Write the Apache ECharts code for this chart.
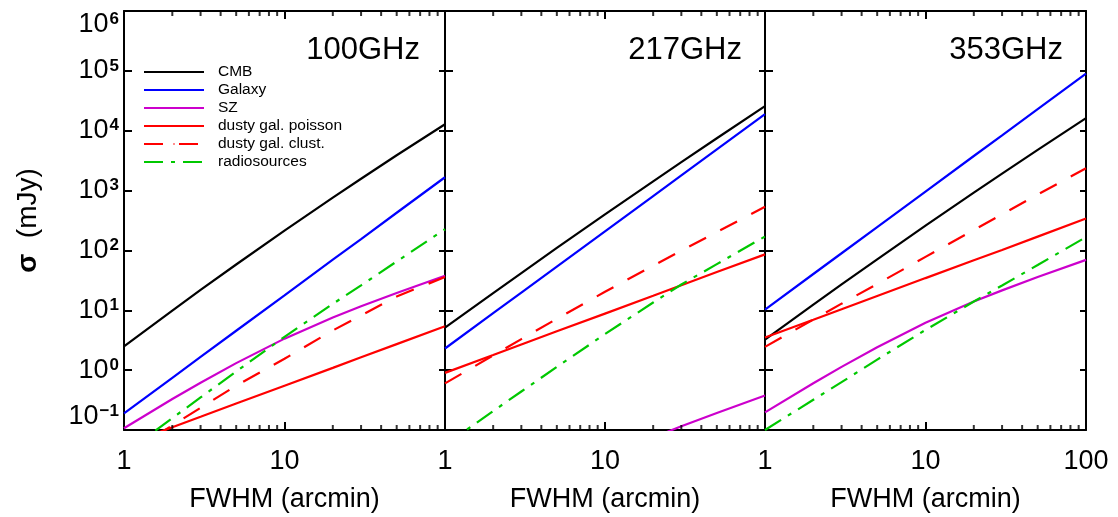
<!DOCTYPE html>
<html>
<head>
<meta charset="utf-8">
<script src="https://cdn.jsdelivr.net/npm/echarts@6/dist/echarts.min.js"></script>
<style>html,body{margin:0;padding:0;background:#fff;}#c{width:1118px;height:517px;}</style>
</head>
<body>
<div id="c"></div>
<script>
// FWHM (arcmin)
const fwhm = [1, 2, 3, 5, 10, 20, 30, 50, 100];

// 100 GHz (sigma in mJy)
const cmb100      = [2.5, 9.9, 21.9, 58.2, 214, 762, 1578, 3885, 12830];
const galaxy100   = [0.19, 0.745, 1.66, 4.55, 17.8, 70, 155, 426, 1670];
const sz100       = [0.107, 0.329, 0.617, 1.31, 3.36, 7.6, 11.7, 19.5, 37.8];
const poisson100  = [0.056, 0.111, 0.166, 0.277, 0.55, 1.09, 1.64, 2.72, 5.4];
const clust100    = [0.038, 0.119, 0.235, 0.55, 1.55, 4.6, 8.2, 17, 36];
const radio100    = [0.040, 0.158, 0.35, 0.95, 3.6, 12.8, 26.1, 65.3, 226];

// 217 GHz
const cmb217      = [5.14, 19.4, 41.9, 110, 399, 1426, 2980, 7490, 25800];
const galaxy217   = [2.3, 8.94, 19.8, 53.7, 208, 810, 1790, 4860, 18950];
const sz217       = [0.00106, 0.00325, 0.0061, 0.0129, 0.0332, 0.075, 0.1155, 0.1925, 0.378];
const poisson217  = [0.9, 1.79, 2.68, 4.45, 8.8, 17.5, 26.2, 43.5, 86];
const clust217    = [0.6, 1.76, 3.3, 7.2, 20.4, 55.7, 99, 203, 535];
const radio217    = [0.056, 0.207, 0.44, 1.13, 4.0, 13.5, 27, 59, 171];

// 353 GHz
const cmb353      = [3.24, 12.4, 27, 71, 259, 922, 1921, 4790, 16230];
const galaxy353   = [10.3, 40.4, 89.7, 246, 963, 3780, 8380, 23000, 90000];
const sz353       = [0.197, 0.605, 1.135, 2.41, 6.18, 14.0, 21.5, 35.9, 69.6];
const poisson353  = [3.5, 6.95, 10.4, 17.3, 34.5, 68.5, 102, 170, 341];
const clust353    = [2.45, 7.0, 12.9, 27.5, 78, 220, 400, 860, 2360];
const radio353    = [0.1, 0.32, 0.63, 1.5, 4.7, 14, 26, 57, 167];

const panelTitles = ['100GHz', '217GHz', '353GHz'];
const componentNames = ['CMB', 'Galaxy', 'SZ', 'dusty gal. poisson', 'dusty gal. clust.', 'radiosources'];
const xTickLabels = [['1', '10', ''], ['1', '10', ''], ['1', '10', '100']];
const minorTicksX = [2, 3, 4, 5, 6, 7, 8, 9, 20, 30, 40, 50, 60, 70, 80, 90];
const yMin = 0.1, yMax = 1e6, xMin = 1, xMax = 100;

const panelData = [
  [cmb100, galaxy100, sz100, poisson100, clust100, radio100],
  [cmb217, galaxy217, sz217, poisson217, clust217, radio217],
  [cmb353, galaxy353, sz353, poisson353, clust353, radio353]
];

const FONT = 'Liberation Sans, Arial, Helvetica, sans-serif';
const styles = [
  {color: '#000000', type: 'solid'},
  {color: '#0000ff', type: 'solid'},
  {color: '#cc00cc', type: 'solid'},
  {color: '#ff0000', type: 'solid'},
  {color: '#ff0000', type: [19, 16]},
  {color: '#00c800', type: [19, 8, 4, 8]}
];

const grids = [
  {left: 124, top: 11, width: 321, height: 419},
  {left: 445, top: 11, width: 320, height: 419},
  {left: 765, top: 11, width: 321, height: 419}
];

function yLabel(v) {
  const e = Math.round(Math.log10(v));
  const sup = e < 0 ? '\u2212' + (-e) : String(e);
  return '{b|10}{s|' + sup + '}';
}

const xAxes = [], yAxes = [], series = [];
grids.forEach((g, i) => {
  const labels = xTickLabels[i];
  xAxes.push({
    type: 'log', logBase: 10, min: xMin, max: xMax, splitNumber: 2, gridIndex: i, position: 'bottom',
    axisLine: {show: true, onZero: false, lineStyle: {color: '#000', width: 2}},
    axisTick: {show: true, inside: true, length: 8, lineStyle: {color: '#000', width: 2}},
    splitLine: {show: false}, minorTick: {show: false},
    axisLabel: {show: true, margin: 18, fontSize: 27, color: '#000', fontFamily: FONT,
      formatter: v => labels[Math.round(Math.log10(v))] || ''},
    name: 'FWHM (arcmin)', nameLocation: 'middle', nameGap: 56,
    nameTextStyle: {fontSize: 27, color: '#000', fontFamily: FONT}
  });
  xAxes.push({
    type: 'log', logBase: 10, min: xMin, max: xMax, splitNumber: 2, gridIndex: i, position: 'top',
    axisLine: {show: true, onZero: false, lineStyle: {color: '#000', width: 2}},
    axisTick: {show: true, inside: true, length: 8, lineStyle: {color: '#000', width: 2}},
    splitLine: {show: false}, axisLabel: {show: false}
  });
  const leftY = {
    type: 'log', logBase: 10, min: yMin, max: yMax, splitNumber: 7, gridIndex: i, position: 'left',
    axisLine: {show: true, onZero: false, lineStyle: {color: '#000', width: 2}},
    axisTick: {show: true, inside: true, length: 8, lineStyle: {color: '#000', width: 2}},
    splitLine: {show: false},
    axisLabel: {show: i === 0, margin: 5, color: '#000', fontFamily: FONT, formatter: yLabel,
      verticalAlignMaxLabel: 'top', verticalAlignMinLabel: 'bottom',
      rich: {
        b: {fontSize: 27, lineHeight: 27, fontFamily: FONT, color: '#000'},
        s: {fontSize: 17, lineHeight: 17, fontWeight: 'bold', verticalAlign: 'top', fontFamily: FONT, color: '#000', padding: [0, 0, 0, 1]}
      }
    }
  };
  if (i === 0) {
    leftY.name = '{s|\u03c3}  (mJy)';
    leftY.nameLocation = 'middle';
    leftY.nameGap = 82;
    leftY.nameTextStyle = {fontSize: 28, color: '#000', fontFamily: FONT,
      rich: {s: {fontSize: 28, fontWeight: 'bold', fontFamily: FONT, color: '#000'}}};
  }
  yAxes.push(leftY);
  yAxes.push({
    type: 'log', logBase: 10, min: yMin, max: yMax, splitNumber: 7, gridIndex: i, position: 'right',
    axisLine: {show: true, onZero: false, lineStyle: {color: '#000', width: 2}},
    axisTick: {show: true, inside: true, length: 6, lineStyle: {color: '#000', width: 2}},
    splitLine: {show: false}, axisLabel: {show: false}
  });

  panelData[i].forEach((arr, k) => {
    series.push({
      type: 'line', name: componentNames[k], xAxisIndex: 2 * i, yAxisIndex: 2 * i,
      data: fwhm.map((x, j) => [x, arr[j]]),
      symbol: 'none', smooth: false, clip: true, silent: true, animation: false,
      lineStyle: {color: styles[k].color, width: 2.2, type: styles[k].type},
      itemStyle: {color: styles[k].color}, z: 3
    });
  });
  // minor ticks on the log x axes (bottom and top)
  series.push({
    type: 'scatter', xAxisIndex: 2 * i, yAxisIndex: 2 * i, silent: true, clip: false, animation: false,
    data: minorTicksX.map(x => [x, yMin]), symbol: 'rect', symbolSize: [2, 5], symbolOffset: [0, -2.5],
    itemStyle: {color: '#000'}, z: 5
  });
  series.push({
    type: 'scatter', xAxisIndex: 2 * i, yAxisIndex: 2 * i, silent: true, clip: false, animation: false,
    data: minorTicksX.map(x => [x, yMax]), symbol: 'rect', symbolSize: [2, 5], symbolOffset: [0, 2.5],
    itemStyle: {color: '#000'}, z: 5
  });
});

const titleRight = [698, 376, 55];
const option = {
  backgroundColor: '#fff',
  animation: false,
  title: panelTitles.map((t, i) => ({
    text: t, right: titleRight[i], top: 35, padding: 0,
    textStyle: {fontSize: 31, fontWeight: 'normal', color: '#000', fontFamily: FONT}
  })),
  legend: {
    data: componentNames, orient: 'vertical', left: 143, top: 64, padding: 0,
    itemWidth: 60, itemHeight: 2, itemGap: 2, selectedMode: false,
    itemStyle: {borderWidth: 0},
    textStyle: {fontSize: 15.5, lineHeight: 16, color: '#000', fontFamily: FONT, padding: [0, 0, 0, 9]}
  },
  grid: grids.map(g => Object.assign({containLabel: false, outerBoundsMode: 'none'}, g)),
  xAxis: xAxes,
  yAxis: yAxes,
  series: series
};

const chart = echarts.init(document.getElementById('c'), null, {renderer: 'canvas'});
chart.setOption(option);
</script>
</body>
</html>
